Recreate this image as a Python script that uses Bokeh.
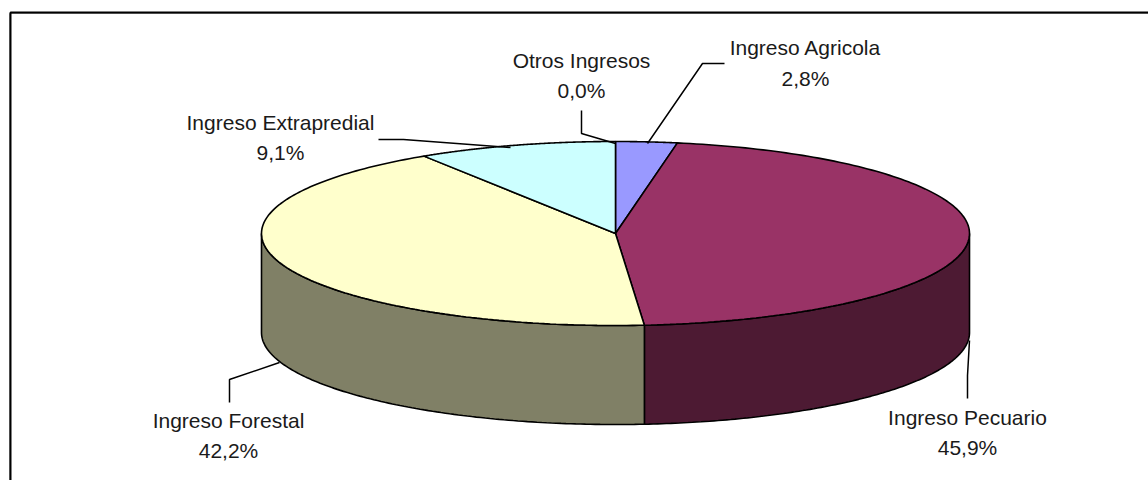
import numpy as np
from bokeh.plotting import figure
from bokeh.models import Range1d, ColumnDataSource
from bokeh.core.properties import value
from bokeh.embed import file_html
from bokeh.resources import INLINE

labels = ["Otros Ingresos", "Ingreso Agricola", "Ingreso Pecuario", "Ingreso Forestal", "Ingreso Extrapredial"]
shares = [0.0, 2.8, 45.9, 42.2, 9.1]
pct_text = ["0,0%", "2,8%", "45,9%", "42,2%", "9,1%"]
top_colors = ["#FFFFFF", "#9999FF", "#993366", "#FFFFCC", "#CCFFFF"]
side_colors = ["#808080", "#4D4D80", "#4D1A33", "#808066", "#668080"]

CX, CY, RX, RY, DEPTH = 615, 233, 354, 92, 99
W, H = 1148, 480

p = figure(width=W, height=H, x_range=Range1d(0, W), y_range=Range1d(H, 0),
           toolbar_location=None, output_backend="svg", min_border=0,
           background_fill_color="white", border_fill_color="white", outline_line_color=None)
p.xaxis.visible = False
p.yaxis.visible = False
p.grid.visible = False

p.line([9, 9, 1148], [480, 13, 13], line_color="#999999", line_width=1)
p.line([10, 10, 1148], [480, 12, 12], line_color="black", line_width=2)

def ell(a):
    a = np.radians(a)
    return CX + RX * np.sin(a), CY - RY * np.cos(a)

total = sum(shares)
edges = np.concatenate([[0], np.cumsum(shares) / total * 360])

for i in range(len(shares)):
    a0, a1 = max(edges[i], 90), min(edges[i + 1], 270)
    if a1 <= a0:
        continue
    t = np.linspace(a0, a1, 120)
    x, y = ell(t)
    xs = np.concatenate([x, x[::-1]])
    ys = np.concatenate([y, y[::-1] + DEPTH])
    p.patch(xs, ys, fill_color=side_colors[i], line_color="black", line_width=1.6)

for i in range(len(shares)):
    if shares[i] <= 0:
        continue
    t = np.linspace(edges[i], edges[i + 1], 160)
    x, y = ell(t)
    p.patch(np.r_[CX, x], np.r_[CY, y], fill_color=top_colors[i], line_color="black", line_width=1.6)

leaders = [
    ([581, 581, 615], [110, 133, 143]),
    ([647, 702, 724], [143, 63, 63]),
    ([967, 967, 969], [398, 375, 340]),
    ([229, 229, 279], [402, 379, 362]),
    ([378, 403, 510], [139, 139, 147]),
]
for lx, ly in leaders:
    p.line(lx, ly, line_color="black", line_width=1.5)

label_pos = [(581, 60, 90), (805, 47, 78), (967, 417, 447), (228, 420, 450), (280, 122, 152)]
for (x, y1, y2), name, pct in zip(label_pos, labels, pct_text):
    src = ColumnDataSource(dict(x=[x, x], y=[y1, y2], t=[name, pct]))
    p.text("x", "y", text="t", source=src, text_font=value("Liberation Sans"), text_font_size="21px",
           text_color="#1a1a1a", text_align="center", text_baseline="middle")

open("out.html", "w").write(file_html(p, INLINE))
